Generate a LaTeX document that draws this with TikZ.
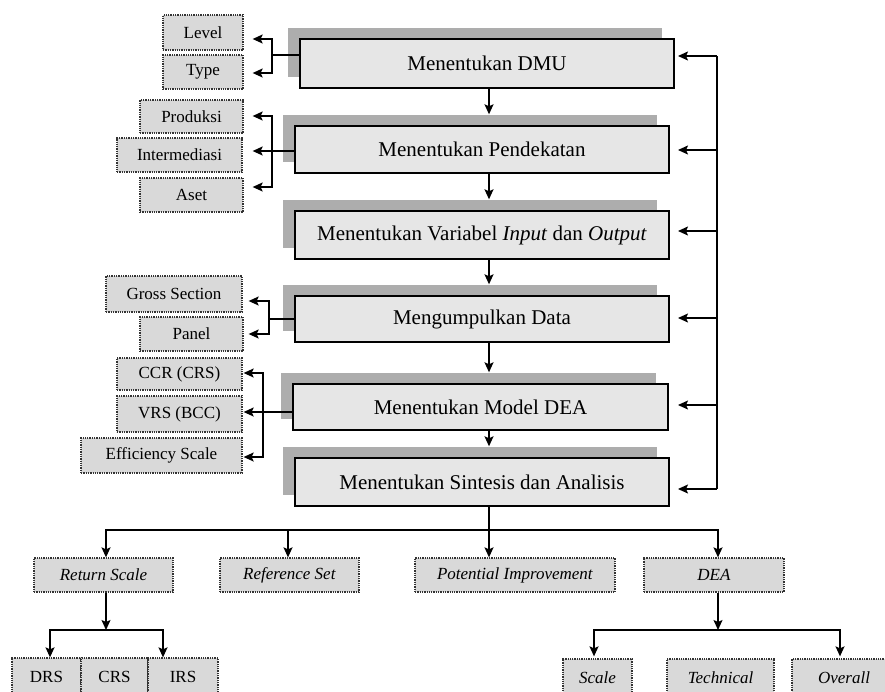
\documentclass[tikz,border=0pt]{standalone}
\usepackage{fontspec}
\setmainfont{Liberation Serif}
\usetikzlibrary{arrows.meta,shadows,calc}
\definecolor{boxfill}{HTML}{E6E6E6}
\definecolor{shade}{HTML}{ADADAD}
\definecolor{subfill}{HTML}{D9D9D9}
\definecolor{dotline}{HTML}{333333}
\tikzset{
 mainbox/.style={draw=black, line width=1.4pt, fill=boxfill, minimum width=374pt, minimum height=47pt, inner sep=0pt, font=\fontsize{21}{25}\selectfont, general shadow={fill=shade, draw=none, shadow xshift=-12pt, shadow yshift=11pt}},
 subbox/.style={draw=dotline, densely dotted, line width=1.3pt, fill=subfill, inner sep=0pt, font=\fontsize{17}{20}\selectfont},
 conn/.style={line width=1.4pt},
 arr/.style={line width=1.4pt, -{Stealth[length=10pt,width=9pt,inset=2pt]}},
 arrboth/.style={line width=1.4pt, {Stealth[length=10pt,width=9pt,inset=2pt]}-{Stealth[length=10pt,width=9pt,inset=2pt]}}
}
\begin{document}
\begin{tikzpicture}[x=1pt,y=-1pt]
\clip (0,0) rectangle (885,691);
\fill[white] (0,0) rectangle (885,691);
% main column
\node[mainbox, minimum height=49pt] (dmu) at (487,63.5) {Menentukan DMU};
\node[mainbox] (pend) at (482,149.5) {Menentukan Pendekatan};
\node[mainbox, minimum height=48pt] (var) at (482,235) {Menentukan Variabel \textit{Input} dan \textit{Output}};
\node[mainbox, minimum height=46pt] (kump) at (482,319) {Mengumpulkan Data};
\node[mainbox, minimum height=46pt, minimum width=375pt] (model) at (480.5,407) {Menentukan Model DEA};
\node[mainbox, minimum height=48pt] (sint) at (482,482) {Menentukan Sintesis dan Analisis};
\coordinate (spine) at (489,0);
\draw[arr] (dmu.south -| spine) -- ($(pend.north -| spine)+(0,-11)$);
\draw[arr] (pend.south -| spine) -- ($(var.north -| spine)+(0,-11)$);
\draw[arr] (var.south -| spine) -- ($(kump.north -| spine)+(0,-11)$);
\draw[arr] (kump.south -| spine) -- ($(model.north -| spine)+(0,-11)$);
\draw[arr] (model.south -| spine) -- ($(sint.north -| spine)+(0,-11)$);
% feedback line
\coordinate (fb) at (717,0);
\coordinate (tip) at (678,0);
\draw[conn] ($(dmu.east -| fb)+(0,-7.5)$) -- ($(sint.east -| fb)+(0,7)$);
\foreach \n/\o in {dmu/-7.5, pend/0.5, var/-4, kump/-1, model/-2, sint/7}
  \draw[arr] ($(\n.east -| fb)+(0,\o)$) -- ($(\n.east -| tip)+(0,\o)$);
% DMU options
\node[subbox, minimum width=80pt, minimum height=35pt] (level) at (203,32.5) {Level};
\node[subbox, minimum width=80pt, minimum height=34pt] (type) at (203,72) {Type};
\coordinate (b1) at (272,55);
\draw[conn] (dmu.west |- b1) -- (b1);
\draw[arrboth] ($(level.east)+(9,6.5)$) -| (b1) |- ($(type.east)+(9,1)$);
% Pendekatan options
\node[subbox, minimum width=103pt, minimum height=33pt] (prod) at (191.5,116.5) {Produksi};
\node[subbox, minimum width=125pt, minimum height=34pt] (inter) at (179.5,155) {Intermediasi};
\node[subbox, minimum width=103pt, minimum height=34pt] (aset) at (191.5,195) {Aset};
\coordinate (b2) at (272,151);
\draw[arrboth] ($(prod.east)+(9,-0.5)$) -| (b2) |- ($(aset.east)+(9,-8)$);
\draw[arr] (pend.west |- b2) -- ($(inter.east)+(10,-4)$);
% Data options
\node[subbox, minimum width=136pt, minimum height=36pt] (gross) at (174,294) {Gross Section};
\node[subbox, minimum width=103pt, minimum height=34pt] (panel) at (191.5,334) {Panel};
\coordinate (b3) at (269,319);
\draw[conn] (kump.west |- b3) -- (b3);
\draw[arrboth] ($(gross.east)+(6,7)$) -| (b3) |- ($(panel.east)+(5,0)$);
% Model options
\node[subbox, minimum width=125pt, minimum height=32pt] (ccr) at (179.5,374) {CCR (CRS)};
\node[subbox, minimum width=125pt, minimum height=36pt] (vrs) at (179.5,414) {VRS (BCC)};
\node[subbox, minimum width=161pt, minimum height=35pt] (eff) at (161.5,455.5) {Efficiency Scale};
\coordinate (b4) at (263,412);
\draw[arrboth] ($(ccr.east)+(1,-1)$) -| (b4) |- ($(eff.east)+(1,1.5)$);
\draw[arr] (model.west |- b4) -- ($(vrs.east)+(1,-2)$);
% bottom row
\node[subbox, minimum width=139pt, minimum height=34pt] (rs) at (103.5,575) {\textit{Return Scale}};
\node[subbox, minimum width=139pt, minimum height=34pt] (ref) at (289.5,575) {\textit{Reference Set}};
\node[subbox, minimum width=200pt, minimum height=34pt] (pot) at (515,575) {\textit{Potential Improvement}};
\node[subbox, minimum width=140pt, minimum height=34pt] (dea) at (714,575) {\textit{DEA}};
\coordinate (hb) at (489,530);
\draw[conn] (sint.south -| hb) -- (hb);
\draw[arrboth] ($(rs.north)+(2.5,0)$) |- (hb) -| ($(dea.north)+(4,0)$);
\draw[arr] (hb) -- (pot.north -| hb);
\draw[arr] ($(ref.north |- hb)+(-1.5,0)$) -- ($(ref.north)+(-1.5,0)$);
% return scale children
\node[subbox, minimum width=69pt, minimum height=38pt] (drs) at (46.5,677) {DRS};
\node[subbox, minimum width=67pt, minimum height=38pt] (crs) at (114.5,677) {CRS};
\node[subbox, minimum width=70pt, minimum height=38pt] (irs) at (183,677) {IRS};
\coordinate (h2) at (106,630);
\draw[arr] ($(rs.south)+(2.5,0)$) -- (h2);
\draw[arrboth] ($(drs.north)+(3.5,0)$) |- (h2) -| ($(irs.north)+(-20,0)$);
% DEA children
\node[subbox, minimum width=69pt, minimum height=38pt] (scale) at (597.5,678) {\textit{Scale}};
\node[subbox, minimum width=107pt, minimum height=38pt] (tech) at (720.5,678) {\textit{Technical}};
\node[subbox, minimum width=120pt, minimum height=38pt] (overall) at (852,678) {\hspace*{-16pt}\textit{Overall}};
\coordinate (h3) at (718,630);
\draw[arr] ($(dea.south)+(4,0)$) -- (h3);
\draw[arrboth] ($(scale.north)+(-3.5,-2)$) |- (h3) -| ($(overall.north)+(-12,-2)$);
\end{tikzpicture}
\end{document}
